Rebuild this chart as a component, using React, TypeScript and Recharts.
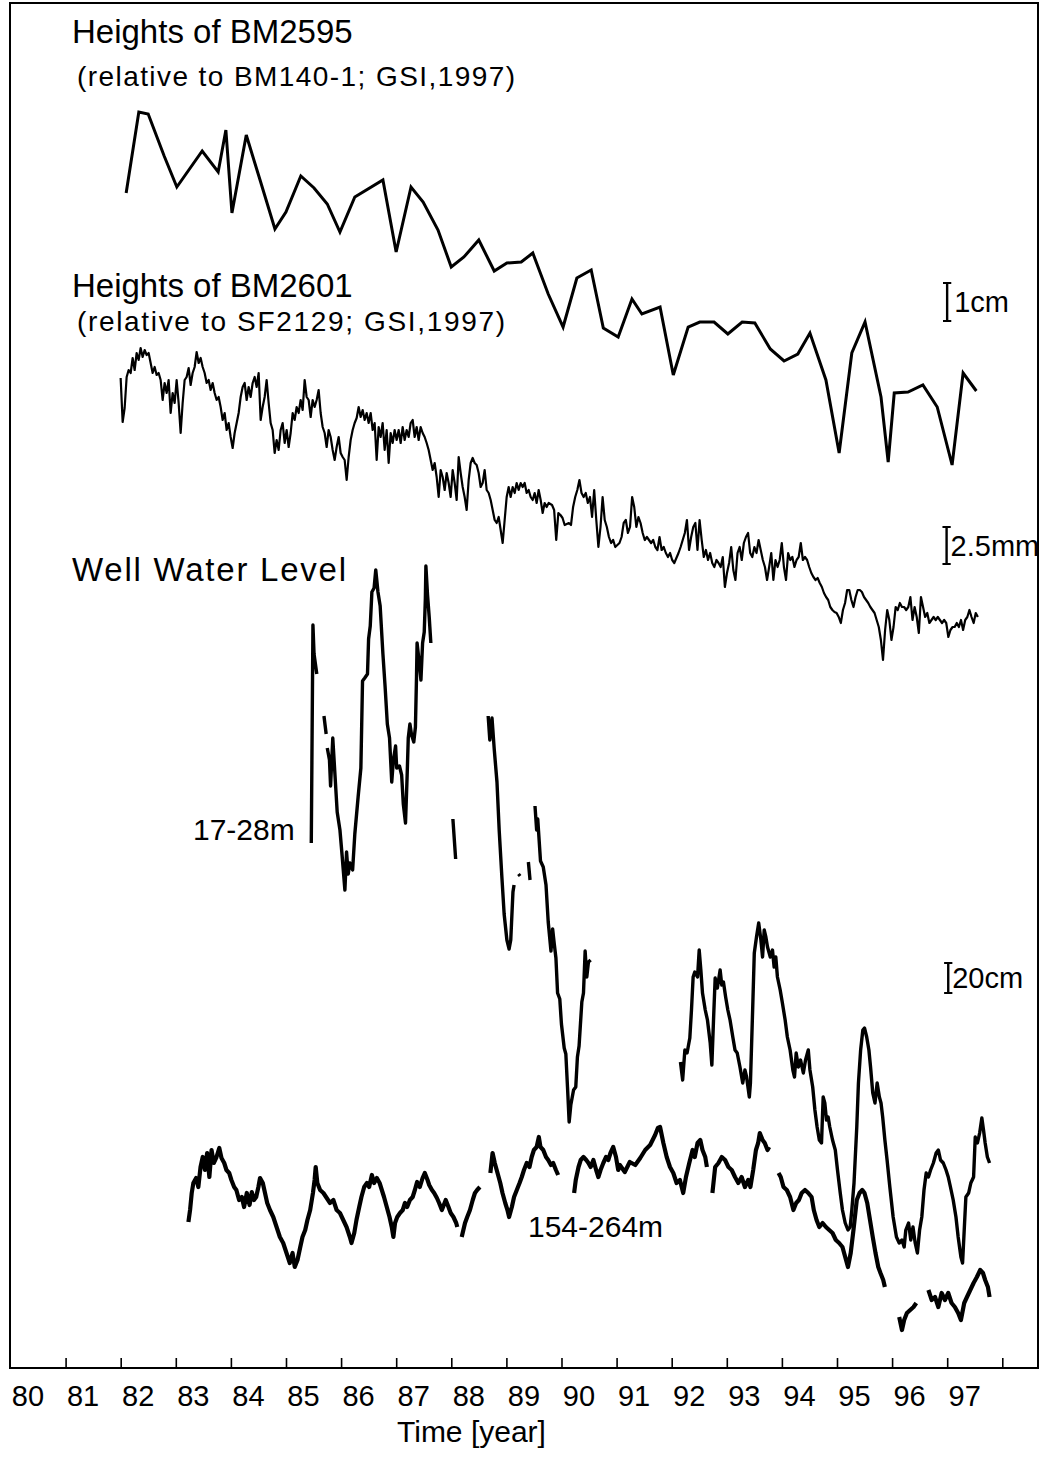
import React from 'react';
import { ComposedChart, Line, XAxis, YAxis, ReferenceLine, ReferenceArea } from 'recharts';

// Offset traces on one sheet: every value is a height above the time axis, in the
// units of the original figure. Physical size is given by the scale bars.
type Pt = [number, number | null];

const FONT = '"Liberation Sans", Arial, Helvetica, sans-serif';

const yearTicks = [80, 81, 82, 83, 84, 85, 86, 87, 88, 89, 90, 91, 92, 93, 94, 95, 96, 97, 98];
const X_DOMAIN: [number, number] = [79.982, 98.639];
const Y_DOMAIN: [number, number] = [0, 1365];

// Heights of BM2595 (levelling surveys)
const bm2595: Pt[] = [
  [82.09, 1175], [82.32, 1256], [82.49, 1254], [82.78, 1212], [83.01, 1181], [83.47, 1217],
  [83.76, 1196], [83.9, 1238], [84.01, 1155], [84.27, 1233], [84.52, 1188], [84.79, 1139],
  [84.99, 1156], [85.26, 1192], [85.5, 1180], [85.74, 1164], [85.97, 1136], [86.24, 1171],
  [86.75, 1188], [86.99, 1116], [87.26, 1181], [87.48, 1166], [87.75, 1138], [87.99, 1101],
  [88.22, 1111], [88.49, 1128], [88.77, 1097], [89.0, 1105], [89.26, 1106], [89.47, 1115],
  [89.75, 1074], [90.02, 1041], [90.27, 1090], [90.53, 1098], [90.75, 1040], [91.02, 1031],
  [91.27, 1069], [91.45, 1054], [91.78, 1061], [92.02, 993], [92.29, 1041], [92.5, 1046],
  [92.76, 1046], [93.01, 1034], [93.27, 1046], [93.5, 1045], [93.78, 1019], [94.03, 1007],
  [94.28, 1014], [94.5, 1035], [94.79, 988], [95.03, 915], [95.26, 1015], [95.5, 1046],
  [95.79, 971], [95.92, 906], [96.03, 975], [96.28, 976], [96.55, 983], [96.81, 961],
  [97.08, 903], [97.28, 995], [97.52, 977],
];

// Heights of BM2601, regularly sampled in two blocks
const BM2601_A_START = 81.99;
const BM2601_A_STEP = 0.0363;
const bm2601A = [
  990, 946, 960, 991, 998, 995, 1010, 998, 1015, 1008, 1020, 1011, 1018, 1013, 1015, 1005, 995, 1001, 993, 995,
  988, 968, 985, 975, 988, 955, 975, 965, 988, 965, 935, 965, 988, 991, 1000, 983, 995, 1001, 1016, 1005,
  1010, 1001, 995, 985,
  988, 978, 985, 975, 968, 971, 961, 948, 955, 938, 945, 931, 920,
  935, 945, 955, 971, 981, 985, 968, 981, 971, 985, 991, 981, 995, 948, 961, 971, 988, 965, 945, 938,
  915, 928, 918, 938, 945, 925, 938, 921, 935, 955, 948, 961, 955, 968, 958, 988, 971, 968, 951, 968,
  961, 968, 978,
  955, 941, 935, 921, 938, 931, 918, 908, 921, 931, 915, 911, 908, 888, 911, 928, 938, 945, 950, 961,
  951, 958, 948, 955, 945, 955, 938, 945, 908, 941, 931, 945, 918, 938, 905, 935, 925, 938, 928, 938,
  925, 941, 928, 938, 931, 945, 948, 931, 941, 928, 941, 935, 931, 925, 918, 908, 898, 905, 891, 871,
  898, 891, 878, 895, 885, 871, 898, 885, 868, 911, 895, 881, 871, 858, 888, 905, 910, 905, 903, 895,
  881, 885, 898, 878, 875, 868, 858, 848, 845, 851, 838, 825,
  848, 871, 881, 871, 881, 875, 885, 878, 885, 881, 885, 875, 878, 871, 868, 875, 865, 878, 868, 855,
  865, 861, 865,
];
const BM2601_B_START = 89.819;
const BM2601_B_STEP = 0.03826;
const bm2601B = [
  863, 858, 828, 855, 853, 850, 843, 844, 845, 843, 861, 871, 878, 888, 875, 871, 875, 865, 871, 851,
  878, 848, 821, 841, 871, 848, 841, 831, 825, 828, 821, 823, 825, 831, 845, 848, 835, 841, 871, 861,
  841, 851, 845, 835, 828, 831, 828, 825, 828, 821, 818, 831, 818, 821,
  815, 811, 815, 808, 805, 810, 815, 821, 828, 835, 848, 818, 831, 841, 845, 818, 848, 828, 811, 818,
  808, 815, 805, 801, 808, 805, 801, 811, 781, 795, 805, 821, 798, 788, 815, 821, 808, 825, 831, 835,
  815, 811, 821, 815, 828, 818, 808, 801, 788, 801, 815, 788, 808, 801, 808, 825, 801, 788, 815, 808,
  811, 801, 808, 811, 825, 808, 811, 808, 801, 795, 791, 788, 790, 785, 781, 775, 771, 768, 761, 758,
  756, 755, 751, 745, 758, 765, 778, 778, 768, 761, 771, 778, 778, 776, 771, 768, 765, 761, 758, 755,
  748, 741, 728, 708, 738, 758, 748, 728, 741, 761, 758, 765, 761, 761, 758, 761, 771, 748, 761, 751,
  735, 771, 761, 751, 755, 745, 748, 751, 748, 751, 748, 745, 748, 745, 731, 738, 741, 741, 745, 741,
  748, 738, 748, 751, 758, 751, 745, 755, 751,
];

// Well water level, 17-28 m screen (null = record missing)
const well17: Pt[] = [
  [85.45, 525], [85.48, 743], [85.5, 714], [85.55, 694], [85.62, null],
  [85.68, 652], [85.72, 634], [85.73, null],
  [85.74, 620], [85.78, 608], [85.8, 582], [85.84, 630], [85.88, 593], [85.92, 556], [85.97, 538],
  [86.01, 512], [86.06, 478], [86.09, 516], [86.12, 494], [86.15, 505], [86.2, 498], [86.24, 534],
  [86.3, 571], [86.35, 600], [86.38, 687], [86.42, 690], [86.47, 694], [86.49, 729], [86.52, 742],
  [86.55, 776], [86.59, 780], [86.62, 798], [86.66, 776], [86.7, 762], [86.75, 714], [86.79, 681],
  [86.83, 644], [86.87, 630], [86.91, 586], [86.94, 608], [86.98, 622], [87.0, 600], [87.05, 602],
  [87.09, 593], [87.12, 564], [87.16, 545], [87.19, 593], [87.21, 630], [87.24, 644], [87.27, 633],
  [87.31, 626], [87.34, 641], [87.36, 692], [87.37, 725], [87.4, 710], [87.44, 688], [87.47, 725],
  [87.5, 736], [87.52, 769], [87.53, 802], [87.56, 773], [87.59, 751], [87.62, 725], [87.8, null],
  [88.02, 549], [88.07, 509], [88.3, null],
  [88.66, 652], [88.69, 628], [88.73, 650], [88.77, 619], [88.82, 586], [88.86, 538], [88.91, 490],
  [88.95, 454], [89.0, 428], [89.04, 419], [89.07, 428], [89.11, 476], [89.13, 483], [89.17, null],
  [89.21, 494], [89.24, 492], [89.3, null],
  [89.39, 506], [89.42, 488], [89.46, null],
  [89.51, 562], [89.54, 538], [89.56, 549], [89.61, 507], [89.66, 501], [89.71, 483], [89.75, 446],
  [89.8, 417], [89.83, 439], [89.86, 424], [89.89, 410], [89.92, 375], [89.96, 369], [89.99, 344],
  [90.04, 320], [90.07, 314], [90.1, 281], [90.13, 246], [90.16, 263], [90.21, 278], [90.25, 281],
  [90.28, 311], [90.31, 322], [90.36, 366], [90.39, 375], [90.42, 417], [90.45, 391], [90.48, 406],
  [90.52, 408], [91.5, null],
  [92.15, 306], [92.19, 288], [92.23, 318], [92.27, 315], [92.32, 330], [92.35, 358], [92.38, 391],
  [92.41, 396], [92.46, 391], [92.49, 418], [92.52, 398], [92.55, 375], [92.6, 358], [92.64, 348],
  [92.69, 325], [92.72, 303], [92.75, 348], [92.78, 390], [92.82, 380], [92.87, 398], [92.9, 383],
  [92.93, 386], [92.97, 371], [93.01, 358], [93.05, 348], [93.1, 331], [93.14, 318], [93.18, 315],
  [93.23, 301], [93.28, 285], [93.32, 298], [93.35, 291], [93.4, 271], [93.42, 285], [93.46, 358],
  [93.49, 415], [93.53, 431], [93.57, 445], [93.61, 428], [93.64, 411], [93.67, 438], [93.7, 431],
  [93.73, 421], [93.78, 411], [93.82, 418], [93.85, 401], [93.88, 411], [93.91, 391], [93.96, 378],
  [94.0, 365], [94.05, 348], [94.09, 331], [94.14, 318], [94.19, 298], [94.22, 291], [94.25, 315],
  [94.29, 301], [94.33, 308], [94.38, 295], [94.42, 308], [94.47, 318], [94.5, 298], [94.55, 281],
  [94.59, 258], [94.63, 241], [94.67, 228], [94.71, 225], [94.74, 271], [94.77, 265], [94.8, 248],
  [94.83, 251], [94.86, 241], [94.91, 228], [94.96, 218], [95.0, 198], [95.05, 175], [95.09, 158],
  [95.14, 145], [95.19, 138], [95.23, 141], [95.26, 158], [95.3, 185], [95.35, 241], [95.38, 285],
  [95.42, 318], [95.46, 338], [95.49, 340], [95.53, 331], [95.57, 318], [95.6, 301], [95.64, 275],
  [95.68, 265], [95.72, 285], [95.76, 271], [95.79, 265], [95.82, 251], [95.86, 228], [95.9, 208],
  [95.95, 181], [96.01, 151], [96.07, 131], [96.12, 125], [96.17, 128], [96.21, 121], [96.24, 138],
  [96.29, 145], [96.33, 128], [96.37, 141], [96.41, 125], [96.45, 115], [96.49, 138], [96.53, 151],
  [96.57, 178], [96.61, 195], [96.65, 191], [96.69, 198], [96.74, 205], [96.79, 215], [96.83, 218],
  [96.87, 208], [96.92, 205], [96.97, 198], [97.01, 191], [97.05, 181], [97.1, 168], [97.15, 151],
  [97.19, 131], [97.24, 111], [97.27, 105], [97.3, 138], [97.33, 171], [97.38, 175], [97.42, 185],
  [97.47, 191], [97.5, 231], [97.54, 225], [97.58, 235], [97.62, 250], [97.65, 238], [97.68, 225],
  [97.72, 211], [97.76, 205],
];

// Well water level, 154-264 m screen
const well154: Pt[] = [
  [83.22, 146], [83.25, 158], [83.28, 175], [83.31, 185], [83.36, 190], [83.4, 181], [83.44, 201],
  [83.48, 211], [83.52, 198], [83.56, 215], [83.6, 191], [83.64, 218], [83.68, 205], [83.73, 211],
  [83.78, 220], [83.82, 210], [83.87, 205], [83.91, 198], [83.96, 195], [84.0, 188], [84.05, 181],
  [84.09, 178], [84.14, 168], [84.19, 171], [84.23, 161], [84.28, 175], [84.33, 163], [84.37, 176],
  [84.41, 168], [84.45, 171], [84.49, 181], [84.52, 190], [84.57, 185], [84.61, 175], [84.65, 165],
  [84.7, 158], [84.76, 151], [84.82, 141], [84.88, 131], [84.94, 125], [85.0, 115], [85.06, 105],
  [85.11, 115], [85.15, 101], [85.2, 108], [85.25, 121], [85.29, 131], [85.34, 138], [85.38, 148],
  [85.43, 158], [85.48, 175], [85.51, 188], [85.53, 201], [85.56, 185], [85.61, 178], [85.67, 175],
  [85.73, 170], [85.79, 165], [85.85, 168], [85.91, 158], [85.97, 155], [86.03, 148], [86.09, 141],
  [86.15, 131], [86.18, 125], [86.23, 135], [86.27, 148], [86.32, 161], [86.36, 171], [86.41, 181],
  [86.46, 185], [86.5, 181], [86.55, 193], [86.59, 185], [86.64, 190], [86.69, 185], [86.73, 178],
  [86.77, 171], [86.82, 161], [86.87, 151], [86.91, 141], [86.94, 131], [86.97, 145], [87.01, 151],
  [87.06, 155], [87.11, 158], [87.15, 165], [87.19, 161], [87.24, 168], [87.29, 171], [87.33, 178],
  [87.37, 186], [87.42, 181], [87.47, 190], [87.51, 195], [87.56, 188], [87.59, 183], [87.64, 178],
  [87.68, 175], [87.73, 170], [87.77, 165], [87.82, 158], [87.89, 168], [87.94, 161], [87.98, 155],
  [88.03, 151], [88.08, 145], [88.1, 141], [88.14, null],
  [88.18, 131], [88.21, 138], [88.24, 145], [88.28, 151], [88.33, 158], [88.38, 168], [88.42, 175],
  [88.46, 178], [88.51, 181], [88.6, null],
  [88.7, 195], [88.74, 215], [88.78, 205], [88.83, 195], [88.88, 185], [88.92, 175], [88.97, 165],
  [89.01, 158], [89.04, 151], [89.09, 161], [89.13, 171], [89.18, 178], [89.23, 185], [89.27, 191],
  [89.31, 198], [89.36, 205], [89.41, 201], [89.45, 211], [89.49, 218], [89.54, 221], [89.58, 231],
  [89.61, 221], [89.66, 218], [89.71, 211], [89.75, 208], [89.8, 203], [89.84, 205], [89.89, 198],
  [89.93, 193], [90.1, null],
  [90.22, 175], [90.25, 188], [90.3, 201], [90.34, 208], [90.39, 211], [90.44, 208], [90.48, 205],
  [90.52, 201], [90.57, 208], [90.62, 198], [90.66, 191], [90.7, 198], [90.75, 205], [90.8, 211],
  [90.84, 208], [90.88, 215], [90.93, 221], [90.98, 211], [91.02, 198], [91.05, 203], [91.14, 196],
  [91.23, 206], [91.33, 203], [91.42, 210], [91.51, 218], [91.6, 223], [91.69, 233], [91.74, 240],
  [91.78, 241], [91.84, 225], [91.9, 211], [91.96, 201], [92.02, 195], [92.08, 185], [92.14, 188],
  [92.2, 175], [92.25, 191], [92.31, 205], [92.37, 218], [92.41, 211], [92.46, 225], [92.51, 228],
  [92.55, 218], [92.6, 211], [92.63, 201], [92.68, null],
  [92.73, 175], [92.78, 201], [92.84, 205], [92.9, 211], [92.96, 208], [93.02, 201], [93.08, 198],
  [93.14, 191], [93.2, 185], [93.26, 191], [93.32, 181], [93.38, 188], [93.42, 181], [93.47, 198],
  [93.52, 218], [93.56, 225], [93.59, 235], [93.64, 228], [93.68, 225], [93.73, 218], [93.76, 221],
  [93.85, null],
  [93.93, 195], [93.97, 191], [94.02, 181], [94.08, 178], [94.14, 171], [94.2, 158], [94.25, 165],
  [94.3, 168], [94.35, 175], [94.41, 178], [94.47, 175], [94.53, 171], [94.57, 158], [94.62, 148],
  [94.67, 141], [94.73, 145], [94.79, 141], [94.85, 138], [94.91, 135], [94.97, 128], [95.03, 125],
  [95.09, 121], [95.14, 111], [95.19, 101], [95.24, 115], [95.29, 138], [95.35, 168], [95.4, 175],
  [95.45, 178], [95.49, 175], [95.54, 165], [95.59, 148], [95.64, 131], [95.69, 115], [95.74, 101],
  [95.78, 95], [95.83, 88], [95.86, 81], [96.0, null],
  [96.12, 51], [96.17, 38], [96.21, 48], [96.26, 55], [96.32, 58], [96.38, 61], [96.43, 65],
  [96.55, null],
  [96.65, 78], [96.71, 68], [96.77, 71], [96.83, 61], [96.89, 75], [96.95, 68], [97.01, 75],
  [97.07, 65], [97.13, 61], [97.19, 55], [97.24, 48], [97.3, 65], [97.35, 71], [97.41, 78],
  [97.47, 85], [97.53, 91], [97.59, 98], [97.64, 95], [97.68, 88], [97.73, 81], [97.76, 71],
];

// scale bars: label, year of the bar, lower and upper end (same units as the traces)
const scaleBars: [string, number, number, number][] = [
  ['1cm', 96.99, 1047, 1085],
  ['2.5mm', 96.98, 804, 841],
  ['20cm', 97.01, 375, 405],
];

const pairRows = (pts: Pt[]) => pts.map(([t, v]) => ({ t, v }));
const gridRows = (start: number, step: number, vals: number[]) =>
  vals.map((v, i) => ({ t: +(start + i * step).toFixed(4), v }));

const bm2595Rows = pairRows(bm2595);
const bm2601Rows = [
  ...gridRows(BM2601_A_START, BM2601_A_STEP, bm2601A),
  ...gridRows(BM2601_B_START, BM2601_B_STEP, bm2601B),
];
const well17Rows = pairRows(well17);
const well154Rows = pairRows(well154);

function YearTick(props: any) {
  const { x, y, payload } = props;
  const year = payload.value as number;
  return (
    <g>
      {year > 80 && <line x1={x} x2={x} y1={y} y2={y - 10} stroke="#000" strokeWidth={1.6} />}
      {year < 98 && (
        <text x={x + 17} y={y + 38} textAnchor="middle" fontSize={29} fontFamily={FONT} fill="#000">
          {year}
        </text>
      )}
    </g>
  );
}

export default function App() {
  return (
    <div style={{ position: 'absolute', left: 0, top: 0, width: 1051, height: 1463, background: '#fff' }}>
      <ComposedChart width={1051} height={1463} margin={{ top: 3, right: 13, bottom: 0, left: 10 }}>
        <XAxis
          dataKey="t"
          type="number"
          domain={X_DOMAIN}
          allowDataOverflow
          ticks={yearTicks}
          interval={0}
          height={95}
          tickSize={0}
          tickMargin={0}
          tickLine={false}
          axisLine={{ stroke: '#000', strokeWidth: 2 }}
          tick={(p: any) => <YearTick {...p} />}
        />
        <YAxis type="number" domain={Y_DOMAIN} allowDataOverflow hide />
        <ReferenceArea
          x1={X_DOMAIN[0]}
          x2={X_DOMAIN[1]}
          y1={Y_DOMAIN[0]}
          y2={Y_DOMAIN[1]}
          fill="none"
          fillOpacity={0}
          stroke="#000"
          strokeWidth={2}
          ifOverflow="visible"
        />
        {scaleBars.flatMap(([label, yr, lo, hi]) => [
          <ReferenceLine
            key={label + '-bar'}
            segment={[{ x: yr, y: lo }, { x: yr, y: hi }]}
            stroke="#000"
            strokeWidth={2.4}
            label={{ value: label, position: 'right', offset: label === '1cm' ? 7 : 4, fontSize: 29, fill: '#000', fontFamily: FONT }}
          />,
          <ReferenceLine key={label + '-lo'} segment={[{ x: yr - 0.075, y: lo }, { x: yr + 0.075, y: lo }]} stroke="#000" strokeWidth={2} />,
          <ReferenceLine key={label + '-hi'} segment={[{ x: yr - 0.075, y: hi }, { x: yr + 0.075, y: hi }]} stroke="#000" strokeWidth={2} />,
        ])}
        <Line data={bm2595Rows} dataKey="v" type="linear" stroke="#000" strokeWidth={3} dot={false} isAnimationActive={false} />
        <Line data={bm2601Rows} dataKey="v" type="linear" stroke="#000" strokeWidth={2.2} strokeLinejoin="round" dot={false} isAnimationActive={false} />
        <Line data={well17Rows} dataKey="v" type="linear" stroke="#000" strokeWidth={3.4} strokeLinejoin="round" dot={false} connectNulls={false} isAnimationActive={false} />
        <Line data={well154Rows} dataKey="v" type="linear" stroke="#000" strokeWidth={4.2} strokeLinejoin="round" dot={false} connectNulls={false} isAnimationActive={false} />
      </ComposedChart>
      <svg width={1051} height={1463} style={{ position: 'absolute', left: 0, top: 0, pointerEvents: 'none' }} fontFamily={FONT} fill="#000">
        <text x={72} y={43} fontSize={33}>Heights of BM2595</text>
        <text x={77} y={86} fontSize={28} textLength={438} lengthAdjust="spacing">(relative to BM140-1; GSI,1997)</text>
        <text x={72} y={297} fontSize={33}>Heights of BM2601</text>
        <text x={77} y={331} fontSize={28} textLength={428} lengthAdjust="spacing">(relative to SF2129; GSI,1997)</text>
        <text x={72} y={581} fontSize={33} textLength={274} lengthAdjust="spacing">Well Water Level</text>
        <text x={193} y={840} fontSize={30}>17-28m</text>
        <text x={528} y={1237} fontSize={30}>154-264m</text>
        <text x={397} y={1442} fontSize={30}>Time [year]</text>
      </svg>
    </div>
  );
}
